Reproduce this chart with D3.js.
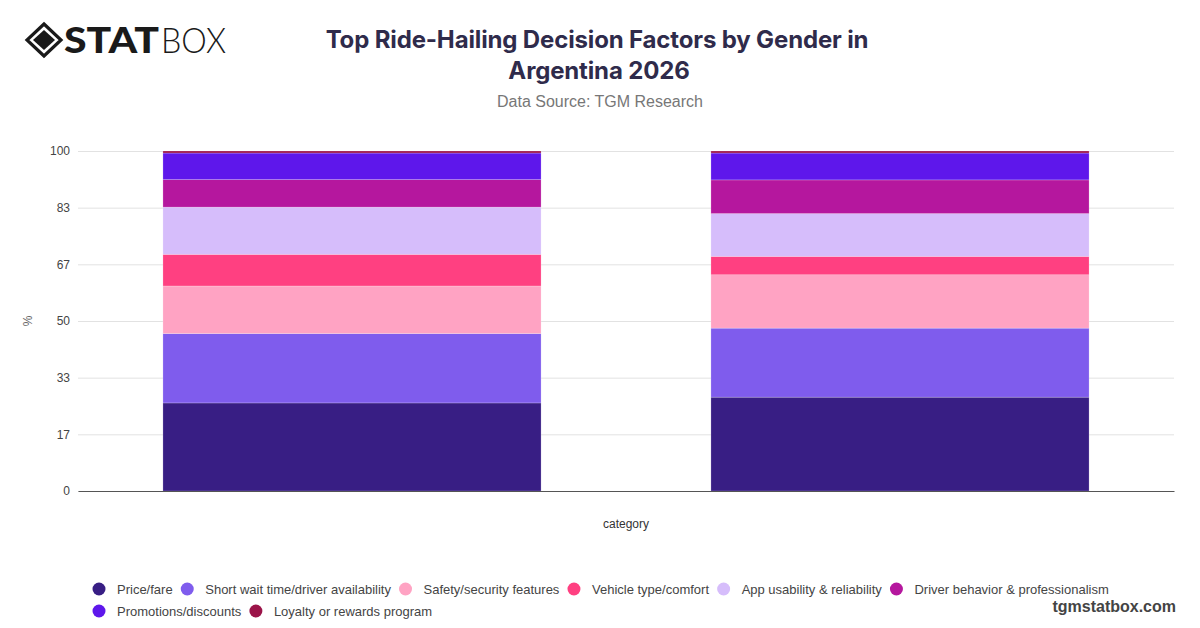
<!DOCTYPE html>
<html>
<head>
<meta charset="utf-8">
<script src="https://cdn.jsdelivr.net/npm/d3@7"></script>
<style>
  html, body { margin: 0; padding: 0; background: #fff; }
  svg { display: block; }
</style>
</head>
<body>
<svg id="chart" width="1200" height="628"></svg>
<script>
const categories = ["Male", "Female"];
const seriesNames = [
  "Price/fare",
  "Short wait time/driver availability",
  "Safety/security features",
  "Vehicle type/comfort",
  "App usability & reliability",
  "Driver behavior & professionalism",
  "Promotions/discounts",
  "Loyalty or rewards program"
];
const maleValues   = [25.9, 20.4, 14.0, 9.3, 13.9, 8.1, 7.8, 0.6];
const femaleValues = [27.6, 20.3, 15.7, 5.4, 12.6, 9.9, 7.9, 0.6];
const seriesColors = ["#381e84", "#7f5ced", "#ffa3c3", "#ff4081", "#d6bdfb", "#b5179e", "#5e17eb", "#9b1449"];
const yTickValues = [0, 100/6, 200/6, 50, 400/6, 500/6, 100];

const titleLines = ["Top Ride-Hailing Decision Factors by Gender in", "Argentina 2026"];
const subtitle = "Data Source: TGM Research";

const svg = d3.select("#chart");
const margin = { left: 78, right: 1174, top: 151, bottom: 491 };

// table for stacking
const table = categories.map((c, i) => {
  const row = { category: c };
  const vals = i === 0 ? maleValues : femaleValues;
  seriesNames.forEach((s, j) => row[s] = vals[j]);
  return row;
});
const stack = d3.stack().keys(seriesNames)(table);

const x = d3.scaleBand().domain(categories).range([margin.left, margin.right]).paddingInner(0.31).paddingOuter(0.155);
const y = d3.scaleLinear().domain([0, 100]).range([margin.bottom, margin.top]);
const color = d3.scaleOrdinal().domain(seriesNames).range(seriesColors);

// gridlines
svg.append("g")
  .attr("transform", `translate(${margin.left},0)`)
  .call(d3.axisLeft(y).tickValues(yTickValues).tickSize(-(margin.right - margin.left)).tickFormat(d => Math.round(d)).tickPadding(8))
  .call(g => g.select(".domain").remove())
  .call(g => g.selectAll(".tick line").attr("stroke", "#e2e2e2").attr("stroke-width", 1))
  .call(g => g.selectAll(".tick text").attr("fill", "#444").attr("font-size", 12).attr("font-family", "Liberation Sans, Arial, sans-serif"));

// bars
svg.append("g").selectAll("g").data(stack).join("g")
  .attr("fill", d => color(d.key))
  .selectAll("rect").data(d => d).join("rect")
  .attr("x", d => x(d.data.category))
  .attr("width", x.bandwidth())
  .attr("y", d => y(d[1]))
  .attr("height", d => y(d[0]) - y(d[1]))
  .attr("stroke", "#fff")
  .attr("stroke-opacity", 0.35)
  .attr("stroke-width", 0.6);

// baseline axis
svg.append("g")
  .attr("transform", `translate(0,${margin.bottom})`)
  .call(d3.axisBottom(x).tickSize(0).tickFormat(""))
  .call(g => g.select(".domain").attr("stroke", "#555").attr("stroke-width", 1.2));

// axis titles
svg.append("text").attr("x", 626).attr("y", 528).attr("text-anchor", "middle")
  .attr("font-family", "Liberation Sans, Arial, sans-serif").attr("font-size", 12).attr("fill", "#333").text("category");
svg.append("text").attr("transform", "translate(32,321) rotate(-90)").attr("text-anchor", "middle")
  .attr("font-family", "Liberation Sans, Arial, sans-serif").attr("font-size", 12).attr("fill", "#666").text("%");

// title
const tg = svg.append("g").attr("font-family", "Inter, sans-serif").attr("font-weight", 700).attr("fill", "#2f2b4b").attr("text-anchor", "middle");
tg.append("text").attr("x", 597).attr("y", 48).attr("font-size", 24).attr("letter-spacing", -0.15).text(titleLines[0]);
tg.append("text").attr("x", 599).attr("y", 79).attr("font-size", 24).attr("letter-spacing", -0.15).text(titleLines[1]);
svg.append("text").attr("x", 600).attr("y", 107).attr("text-anchor", "middle")
  .attr("font-family", "Liberation Sans, Arial, sans-serif").attr("font-size", 16).attr("fill", "#777").text(subtitle);

// logo
const logo = svg.append("g");
logo.append("path").attr("d", "M44,24 L61,40 L44,56 L27,40 Z").attr("fill", "none").attr("stroke", "#1a1a1a").attr("stroke-width", 3.2);
logo.append("path").attr("d", "M44,30 L55,40 L44,50 L33,40 Z").attr("fill", "#1a1a1a");
logo.append("text").attr("x", 64).attr("y", 53).attr("font-family", "Lato, sans-serif").attr("font-weight", 900)
  .attr("font-size", 36).attr("fill", "#1a1a1a").attr("textLength", 95).attr("lengthAdjust", "spacingAndGlyphs").text("STAT");
logo.append("text").attr("x", 161).attr("y", 53).attr("font-family", "Lato, sans-serif").attr("font-weight", 300)
  .attr("font-size", 36).attr("fill", "#1a1a1a").attr("textLength", 65).attr("lengthAdjust", "spacingAndGlyphs").text("BOX");

// legend
const legendRows = [seriesNames.slice(0, 6), seriesNames.slice(6)];
const legendY = [589, 611];
legendRows.forEach((row, ri) => {
  let cx = 99;
  row.forEach(name => {
    const g = svg.append("g");
    g.append("circle").attr("cx", cx).attr("cy", legendY[ri]).attr("r", 6.5).attr("fill", color(name));
    const t = g.append("text").attr("x", cx + 18).attr("y", legendY[ri] + 4.5)
      .attr("font-family", "Liberation Sans, Arial, sans-serif").attr("font-size", 13).attr("fill", "#444").text(name);
    cx = cx + 18 + t.node().getComputedTextLength() + 14.6;
  });
});

svg.append("text").attr("x", 1176).attr("y", 612).attr("text-anchor", "end")
  .attr("font-family", "Liberation Sans, Arial, sans-serif").attr("font-weight", 700).attr("font-size", 16).attr("fill", "#444").text("tgmstatbox.com");
</script>
</body>
</html>
